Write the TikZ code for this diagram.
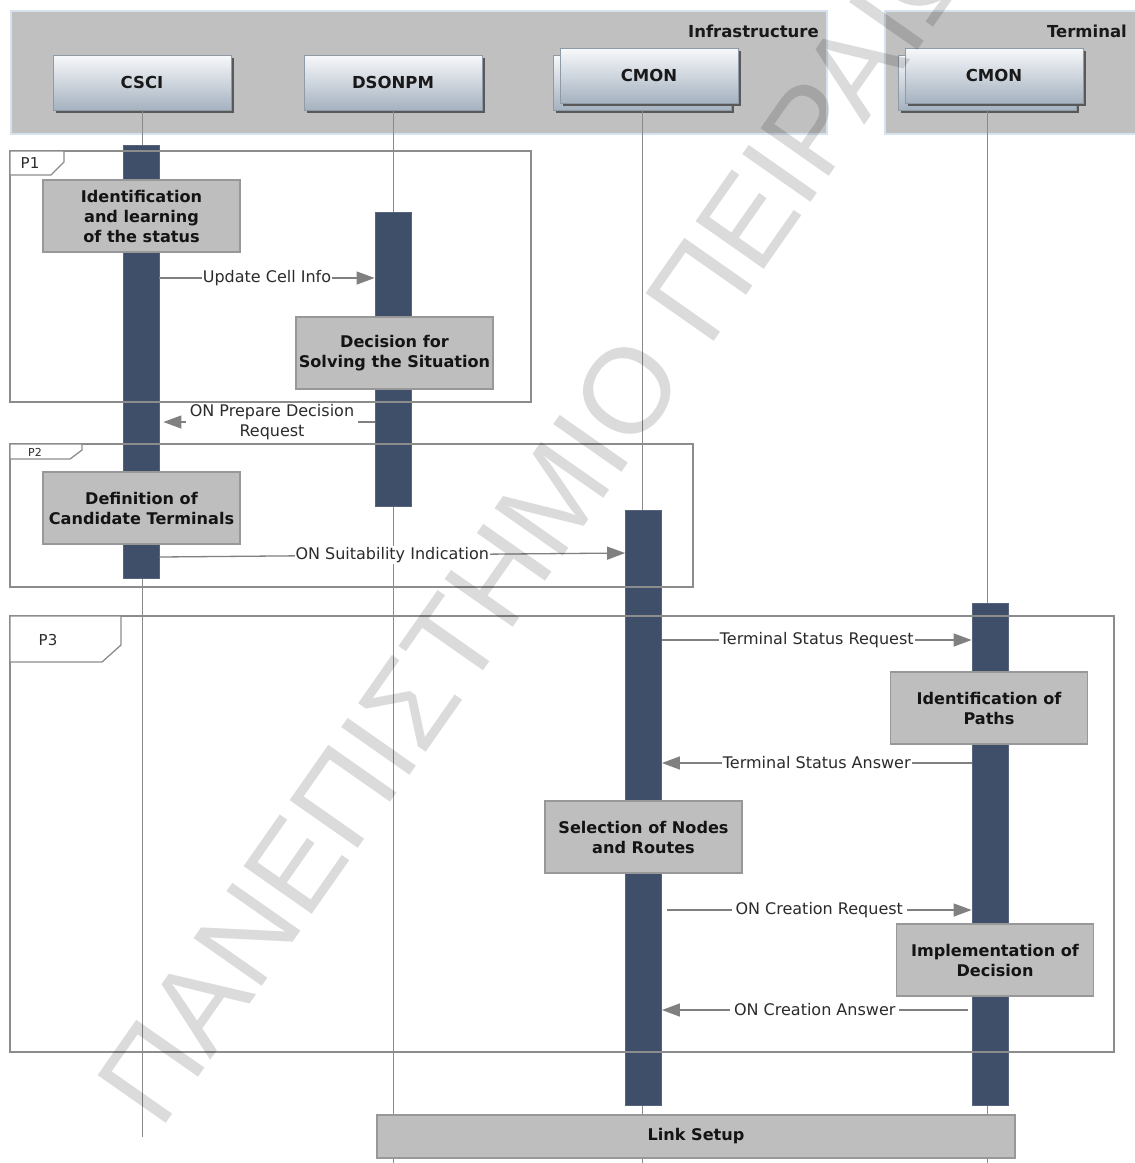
\documentclass[tikz,border=0pt]{standalone}
\usepackage{fontspec}
\setmainfont{DejaVu Sans}
\newfontfamily\wmfont{Liberation Sans}
\usetikzlibrary{arrows.meta,shadows}

\definecolor{bandgray}{HTML}{C0C0C0}
\definecolor{bandedge}{HTML}{D6E3EE}
\definecolor{headtop}{HTML}{F8F9FB}
\definecolor{headbot}{HTML}{A5B2C0}
\definecolor{headedge}{HTML}{8E9AA6}
\definecolor{barfill}{HTML}{3F4E69}
\definecolor{baredge}{HTML}{56647C}
\definecolor{actfill}{HTML}{BEBEBE}
\definecolor{actedge}{HTML}{989898}
\definecolor{msgline}{HTML}{808080}
\definecolor{lifegray}{HTML}{8A8A8A}
\definecolor{frameedge}{HTML}{8C8C8C}
\definecolor{labeltext}{HTML}{2B2B2B}

\newcommand{\headfont}{\bfseries\fontsize{16.5}{20}\selectfont}
\newcommand{\actfont}{\bfseries\fontsize{16.1}{20}\selectfont}
\newcommand{\msgfont}{\fontsize{16}{20}\selectfont}

\begin{document}
\begin{tikzpicture}[x=1pt,y=-1pt,
  band/.style={rectangle, fill=bandgray, draw=bandedge, line width=2pt, inner sep=0},
  bandlbl/.style={font=\headfont, text=black!90, inner sep=0},
  head/.style={rectangle, minimum width=178pt, minimum height=55pt, inner sep=0,
    top color=headtop, bottom color=headbot, draw=headedge, line width=0.8pt,
    general shadow={fill=black!65, shadow xshift=2.5pt, shadow yshift=-2.5pt},
    font=\headfont, text=black!90},
  life/.style={draw=lifegray, line width=1pt},
  bar/.style={rectangle, fill=barfill, draw=baredge, line width=0.8pt,
    minimum width=36pt, inner sep=0},
  frame/.style={draw=frameedge, line width=1.3pt},
  tag/.style={draw=frameedge, line width=1.3pt, fill=white},
  taglbl/.style={text=labeltext, inner sep=0},
  act/.style={rectangle, fill=actfill, draw=actedge, line width=1.2pt,
    minimum width=197pt, minimum height=72pt, inner sep=0, align=center,
    font=\actfont, text=black!92},
  msg/.style={draw=msgline, line width=1.3pt,
    -{Triangle[length=18pt, width=13pt]}},
  lbl/.style={fill=white, inner xsep=1pt, inner ysep=1pt, font=\msgfont,
    text=labeltext, align=center},
  wlbl/.style={lbl, inner xsep=4pt},
  wm/.style={font=\wmfont\fontsize{121}{121}\selectfont, text=black,
    opacity=0.14, inner sep=0}
]
\useasboundingbox (0,0) rectangle (1135,1163);
\fill[white] (0,0) rectangle (1135,1163);

% header bands
\node[band, minimum width=816pt, minimum height=123pt, anchor=north west] (infra) at (10,10) {};
\node[band, minimum width=260pt, minimum height=123pt, anchor=north west] (term) at (884,10) {};
\node[bandlbl, anchor=east] (infralbl) at (819,31) {Infrastructure};
\node[bandlbl, anchor=east] (termlbl) at (1127,31) {Terminal};

% lifeline heads
\node[head] (csci) at (142,82.5) {CSCI};
\node[head] (dson) at (393,82.5) {DSONPM};
\node[head] (cmonib) at (642,82.5) {};
\node[head] (cmoni) at (649,75.5) {CMON};
\node[head] (cmontb) at (987,82.5) {};
\node[head] (cmont) at (994,75.5) {CMON};

% lifelines
\coordinate (csciend) at (142,1137);
\coordinate (dsonend) at (393,1163);
\coordinate (cmoniend) at (642,1163);
\coordinate (cmontend) at (987,1163);
\draw[life] (csci.south) -- (csciend);
\draw[life] (dson.south) -- (dsonend);
\draw[life] (cmonib.south) -- (cmoniend);
\draw[life] (cmontb.south) -- (cmontend);

% activation bars
\node[bar, minimum height=433pt] (b1) at (141,361.5) {};
\node[bar, minimum height=294pt] (b2) at (393,359) {};
\node[bar, minimum height=595pt] (b3) at (643.5,807.5) {};
\node[bar, minimum height=502pt] (b4) at (990,854) {};

% combined fragments
\draw[frame] (10,151) rectangle (531,402);
\draw[tag] (10,151) -- (64,151) -- (64,162) -- (51,175) -- (10,175) -- cycle;
\node[taglbl, font=\fontsize{15}{18}\selectfont] (p1) at (30,163.5) {P1};

\draw[frame] (10,444) rectangle (693,587);
\draw[tag] (10,444) -- (82,444) -- (82,450) -- (70,459) -- (10,459) -- cycle;
\node[taglbl, font=\fontsize{11}{13}\selectfont] (p2) at (35,452) {P2};

\draw[frame] (10,616) rectangle (1114,1052);
\draw[tag] (10,616) -- (121,616) -- (121,645) -- (102,662) -- (10,662) -- cycle;
\node[taglbl, font=\fontsize{15}{18}\selectfont] (p3) at (48,640) {P3};

% actions
\node[act] (a1) at (141.5,216) {Identification\\and learning\\of the status};
\node[act] (a2) at (394.5,353) {Decision for\\Solving the Situation};
\node[act] (a3) at (141.5,508) {Definition of\\Candidate Terminals};
\node[act] (a4) at (989,708) {Identification of\\Paths};
\node[act] (a5) at (643.5,837) {Selection of Nodes\\and Routes};
\node[act] (a6) at (995,960) {Implementation of\\Decision};
\node[act, minimum width=638pt, minimum height=43pt] (link) at (696,1136.5) {Link Setup};

% messages
\draw[msg] (b1.east |- 0,278) -- node[lbl] {Update Cell Info} (b2.west |- 0,278);
\draw[msg] (b2.west |- 0,422) -- node[wlbl, xshift=3pt] {ON Prepare Decision\\Request} ([xshift=4pt]b1.east |- 0,422);
\draw[msg] (b1.east |- 0,557) -- node[lbl] {ON Suitability Indication} (b3.west |- 0,553);
\draw[msg] (b3.east |- 0,640) -- node[lbl] {Terminal Status Request} (b4.west |- 0,640);
\draw[msg] (b4.west |- 0,763) -- node[lbl] {Terminal Status Answer} (b3.east |- 0,763);
\draw[msg] ([xshift=5pt]b3.east |- 0,910) -- node[wlbl] {ON Creation Request} (b4.west |- 0,910);
\draw[msg] ([xshift=-4pt]b4.west |- 0,1010) -- node[wlbl] {ON Creation Answer} (b3.east |- 0,1010);

% watermark
\node[wm, rotate=55, anchor=base west] (mark) at (160,1132) {ΠΑΝΕΠΙΣΤΗΜΙΟ ΠΕΙΡΑΙΩΣ};
\end{tikzpicture}
\end{document}
